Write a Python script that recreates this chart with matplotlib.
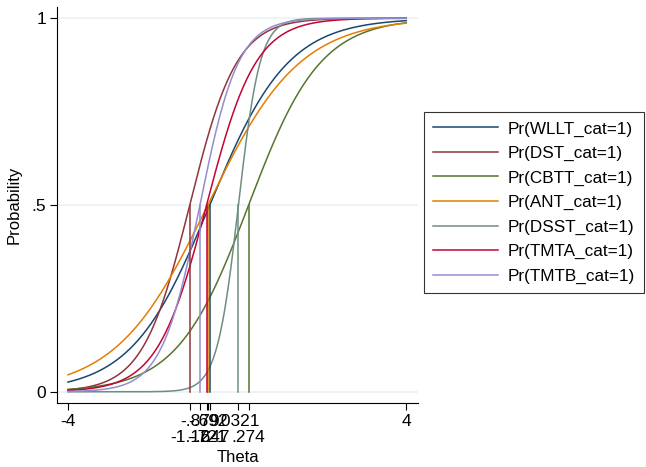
import numpy as np
import matplotlib
matplotlib.use("Agg")
import matplotlib.pyplot as plt

plt.rcParams['font.family'] = ['Liberation Sans', 'DejaVu Sans']

# --- item parameters (2PL) ---
items = ["WLLT", "DST", "CBTT", "ANT", "DSST", "TMTA", "TMTB"]
discrim = [1.08, 1.8, 1.18, 0.92, 3.9, 1.72, 2.2]
difficulty = [-0.647, -1.12, 0.274, -0.692, 0.0321, -0.721, -0.879]
# Stata s2color series colours
colors = ["#1a476f", "#90353b", "#55752f", "#e37e00", "#6e8e84", "#c10534", "#938dd2"]

# x tick labels (alternating rows like Stata)
xtick_vals = [-4, -1.12, -0.879, -0.721, -0.692, -0.647, 0.0321, 0.274, 4]
xtick_text = ["-4", "\n-1.12", "-.879", "\n-.721", "-.692", "\n-.647", ".0321", "\n.274", "4"]

theta = np.linspace(-4, 4, 400)

fig = plt.figure(figsize=(6.46, 4.67), dpi=100)
ax = fig.add_axes([57 / 646, 64 / 467, 361 / 646, 396 / 467])

# light grid lines
for yv in [0, 0.5, 1]:
    ax.axhline(yv, color="#eaf2f3", lw=1.2, zorder=0)

for name, a, b, c in zip(items, discrim, difficulty, colors):
    p = 1 / (1 + np.exp(-a * (theta - b)))
    ax.plot(theta, p, color=c, lw=1.1, label=f"Pr({name}_cat=1)")

# difficulty drop lines
for b, c in zip(difficulty, colors):
    ax.plot([b, b], [0, 0.5], color=c, lw=1.1)

ax.set_xlim(-4.26, 4.28)
ax.set_ylim(-0.03, 1.03)
ax.set_yticks([0, 0.5, 1])
ax.set_yticklabels(["0", ".5", "1"], fontsize=12.5)
ax.set_xticks(xtick_vals)
ax.set_xticklabels(xtick_text, fontsize=12.5, linespacing=1.05)
ax.tick_params(axis="both", length=5, width=0.8, color="black", pad=3)
ax.set_xlabel("Theta", fontsize=12, labelpad=4)
ax.set_ylabel("Probability", fontsize=12, labelpad=7)

for side in ["top", "right"]:
    ax.spines[side].set_visible(False)
for side in ["left", "bottom"]:
    ax.spines[side].set_linewidth(0.8)

leg = fig.legend(loc="upper left", bbox_to_anchor=(424 / 646, 1 - 112 / 467),
                 frameon=True, fancybox=False, edgecolor="black", fontsize=12.3,
                 handlelength=3.8, handletextpad=0.55, labelspacing=0.55,
                 borderpad=0.55, borderaxespad=0)
leg.get_frame().set_linewidth(0.8)

fig.savefig("out.png", dpi=100)
